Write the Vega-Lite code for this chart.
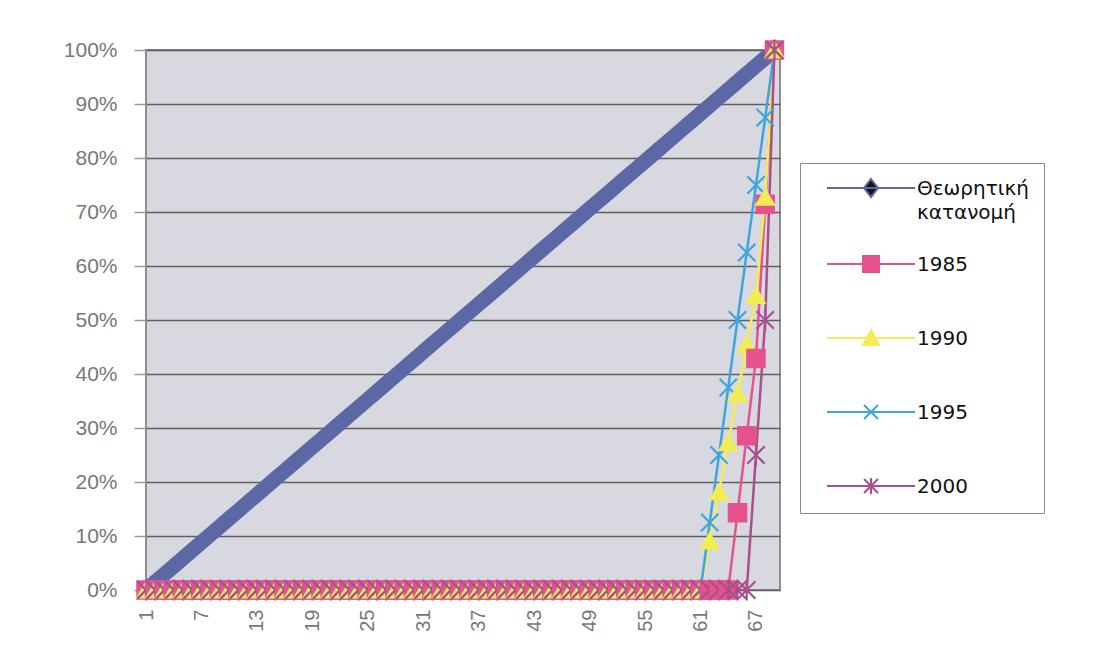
{
  "$schema": "https://vega.github.io/schema/vega-lite/v6.json",
  "width": 634,
  "height": 540,
  "autosize": {"type": "none"},
  "padding": {"left": 146, "top": 50, "right": 314, "bottom": 72},
  "background": "#ffffff",
  "config": {
    "font": "Liberation Sans",
    "view": {"fill": "#d8d8e1", "stroke": "#8e8e8e", "strokeWidth": 2}
  },
  "data": {
    "values": [
      {"i": 1, "Θεωρητική κατανομή": 0, "1985": 0, "1990": 0, "1995": 0, "2000": 0},
      {"i": 2, "Θεωρητική κατανομή": 0.0147, "1985": 0, "1990": 0, "1995": 0, "2000": 0},
      {"i": 3, "Θεωρητική κατανομή": 0.0294, "1985": 0, "1990": 0, "1995": 0, "2000": 0},
      {"i": 4, "Θεωρητική κατανομή": 0.0441, "1985": 0, "1990": 0, "1995": 0, "2000": 0},
      {"i": 5, "Θεωρητική κατανομή": 0.0588, "1985": 0, "1990": 0, "1995": 0, "2000": 0},
      {"i": 6, "Θεωρητική κατανομή": 0.0735, "1985": 0, "1990": 0, "1995": 0, "2000": 0},
      {"i": 7, "Θεωρητική κατανομή": 0.0882, "1985": 0, "1990": 0, "1995": 0, "2000": 0},
      {"i": 8, "Θεωρητική κατανομή": 0.1029, "1985": 0, "1990": 0, "1995": 0, "2000": 0},
      {"i": 9, "Θεωρητική κατανομή": 0.1176, "1985": 0, "1990": 0, "1995": 0, "2000": 0},
      {"i": 10, "Θεωρητική κατανομή": 0.1324, "1985": 0, "1990": 0, "1995": 0, "2000": 0},
      {"i": 11, "Θεωρητική κατανομή": 0.1471, "1985": 0, "1990": 0, "1995": 0, "2000": 0},
      {"i": 12, "Θεωρητική κατανομή": 0.1618, "1985": 0, "1990": 0, "1995": 0, "2000": 0},
      {"i": 13, "Θεωρητική κατανομή": 0.1765, "1985": 0, "1990": 0, "1995": 0, "2000": 0},
      {"i": 14, "Θεωρητική κατανομή": 0.1912, "1985": 0, "1990": 0, "1995": 0, "2000": 0},
      {"i": 15, "Θεωρητική κατανομή": 0.2059, "1985": 0, "1990": 0, "1995": 0, "2000": 0},
      {"i": 16, "Θεωρητική κατανομή": 0.2206, "1985": 0, "1990": 0, "1995": 0, "2000": 0},
      {"i": 17, "Θεωρητική κατανομή": 0.2353, "1985": 0, "1990": 0, "1995": 0, "2000": 0},
      {"i": 18, "Θεωρητική κατανομή": 0.25, "1985": 0, "1990": 0, "1995": 0, "2000": 0},
      {"i": 19, "Θεωρητική κατανομή": 0.2647, "1985": 0, "1990": 0, "1995": 0, "2000": 0},
      {"i": 20, "Θεωρητική κατανομή": 0.2794, "1985": 0, "1990": 0, "1995": 0, "2000": 0},
      {"i": 21, "Θεωρητική κατανομή": 0.2941, "1985": 0, "1990": 0, "1995": 0, "2000": 0},
      {"i": 22, "Θεωρητική κατανομή": 0.3088, "1985": 0, "1990": 0, "1995": 0, "2000": 0},
      {"i": 23, "Θεωρητική κατανομή": 0.3235, "1985": 0, "1990": 0, "1995": 0, "2000": 0},
      {"i": 24, "Θεωρητική κατανομή": 0.3382, "1985": 0, "1990": 0, "1995": 0, "2000": 0},
      {"i": 25, "Θεωρητική κατανομή": 0.3529, "1985": 0, "1990": 0, "1995": 0, "2000": 0},
      {"i": 26, "Θεωρητική κατανομή": 0.3676, "1985": 0, "1990": 0, "1995": 0, "2000": 0},
      {"i": 27, "Θεωρητική κατανομή": 0.3824, "1985": 0, "1990": 0, "1995": 0, "2000": 0},
      {"i": 28, "Θεωρητική κατανομή": 0.3971, "1985": 0, "1990": 0, "1995": 0, "2000": 0},
      {"i": 29, "Θεωρητική κατανομή": 0.4118, "1985": 0, "1990": 0, "1995": 0, "2000": 0},
      {"i": 30, "Θεωρητική κατανομή": 0.4265, "1985": 0, "1990": 0, "1995": 0, "2000": 0},
      {"i": 31, "Θεωρητική κατανομή": 0.4412, "1985": 0, "1990": 0, "1995": 0, "2000": 0},
      {"i": 32, "Θεωρητική κατανομή": 0.4559, "1985": 0, "1990": 0, "1995": 0, "2000": 0},
      {"i": 33, "Θεωρητική κατανομή": 0.4706, "1985": 0, "1990": 0, "1995": 0, "2000": 0},
      {"i": 34, "Θεωρητική κατανομή": 0.4853, "1985": 0, "1990": 0, "1995": 0, "2000": 0},
      {"i": 35, "Θεωρητική κατανομή": 0.5, "1985": 0, "1990": 0, "1995": 0, "2000": 0},
      {"i": 36, "Θεωρητική κατανομή": 0.5147, "1985": 0, "1990": 0, "1995": 0, "2000": 0},
      {"i": 37, "Θεωρητική κατανομή": 0.5294, "1985": 0, "1990": 0, "1995": 0, "2000": 0},
      {"i": 38, "Θεωρητική κατανομή": 0.5441, "1985": 0, "1990": 0, "1995": 0, "2000": 0},
      {"i": 39, "Θεωρητική κατανομή": 0.5588, "1985": 0, "1990": 0, "1995": 0, "2000": 0},
      {"i": 40, "Θεωρητική κατανομή": 0.5735, "1985": 0, "1990": 0, "1995": 0, "2000": 0},
      {"i": 41, "Θεωρητική κατανομή": 0.5882, "1985": 0, "1990": 0, "1995": 0, "2000": 0},
      {"i": 42, "Θεωρητική κατανομή": 0.6029, "1985": 0, "1990": 0, "1995": 0, "2000": 0},
      {"i": 43, "Θεωρητική κατανομή": 0.6176, "1985": 0, "1990": 0, "1995": 0, "2000": 0},
      {"i": 44, "Θεωρητική κατανομή": 0.6324, "1985": 0, "1990": 0, "1995": 0, "2000": 0},
      {"i": 45, "Θεωρητική κατανομή": 0.6471, "1985": 0, "1990": 0, "1995": 0, "2000": 0},
      {"i": 46, "Θεωρητική κατανομή": 0.6618, "1985": 0, "1990": 0, "1995": 0, "2000": 0},
      {"i": 47, "Θεωρητική κατανομή": 0.6765, "1985": 0, "1990": 0, "1995": 0, "2000": 0},
      {"i": 48, "Θεωρητική κατανομή": 0.6912, "1985": 0, "1990": 0, "1995": 0, "2000": 0},
      {"i": 49, "Θεωρητική κατανομή": 0.7059, "1985": 0, "1990": 0, "1995": 0, "2000": 0},
      {"i": 50, "Θεωρητική κατανομή": 0.7206, "1985": 0, "1990": 0, "1995": 0, "2000": 0},
      {"i": 51, "Θεωρητική κατανομή": 0.7353, "1985": 0, "1990": 0, "1995": 0, "2000": 0},
      {"i": 52, "Θεωρητική κατανομή": 0.75, "1985": 0, "1990": 0, "1995": 0, "2000": 0},
      {"i": 53, "Θεωρητική κατανομή": 0.7647, "1985": 0, "1990": 0, "1995": 0, "2000": 0},
      {"i": 54, "Θεωρητική κατανομή": 0.7794, "1985": 0, "1990": 0, "1995": 0, "2000": 0},
      {"i": 55, "Θεωρητική κατανομή": 0.7941, "1985": 0, "1990": 0, "1995": 0, "2000": 0},
      {"i": 56, "Θεωρητική κατανομή": 0.8088, "1985": 0, "1990": 0, "1995": 0, "2000": 0},
      {"i": 57, "Θεωρητική κατανομή": 0.8235, "1985": 0, "1990": 0, "1995": 0, "2000": 0},
      {"i": 58, "Θεωρητική κατανομή": 0.8382, "1985": 0, "1990": 0, "1995": 0, "2000": 0},
      {"i": 59, "Θεωρητική κατανομή": 0.8529, "1985": 0, "1990": 0, "1995": 0, "2000": 0},
      {"i": 60, "Θεωρητική κατανομή": 0.8676, "1985": 0, "1990": 0, "1995": 0, "2000": 0},
      {"i": 61, "Θεωρητική κατανομή": 0.8824, "1985": 0, "1990": 0, "1995": 0, "2000": 0},
      {"i": 62, "Θεωρητική κατανομή": 0.8971, "1985": 0, "1990": 0.0909, "1995": 0.125, "2000": 0},
      {"i": 63, "Θεωρητική κατανομή": 0.9118, "1985": 0, "1990": 0.1818, "1995": 0.25, "2000": 0},
      {"i": 64, "Θεωρητική κατανομή": 0.9265, "1985": 0, "1990": 0.2727, "1995": 0.375, "2000": 0},
      {"i": 65, "Θεωρητική κατανομή": 0.9412, "1985": 0.1429, "1990": 0.3636, "1995": 0.5, "2000": 0},
      {"i": 66, "Θεωρητική κατανομή": 0.9559, "1985": 0.2857, "1990": 0.4545, "1995": 0.625, "2000": 0},
      {"i": 67, "Θεωρητική κατανομή": 0.9706, "1985": 0.4286, "1990": 0.5455, "1995": 0.75, "2000": 0.25},
      {"i": 68, "Θεωρητική κατανομή": 0.9853, "1985": 0.7143, "1990": 0.7273, "1995": 0.875, "2000": 0.5},
      {"i": 69, "Θεωρητική κατανομή": 1, "1985": 1, "1990": 1, "1995": 1, "2000": 1}
    ]
  },
  "transform": [
    {"fold": ["Θεωρητική κατανομή", "1985", "1990", "1995", "2000"], "as": ["series", "v"]}
  ],
  "encoding": {
    "x": {
      "field": "i", "type": "quantitative",
      "scale": {"domain": [1, 69.6], "nice": false, "zero": false},
      "axis": {
        "values": [1, 7, 13, 19, 25, 31, 37, 43, 49, 55, 61, 67],
        "labelAngle": -90, "title": null, "grid": false, "domain": false, "ticks": false,
        "labelPadding": 19, "labelFontSize": 20, "labelColor": "#777777", "labelFont": "Liberation Sans"
      }
    },
    "y": {
      "field": "v", "type": "quantitative",
      "scale": {"domain": [0, 1], "nice": false},
      "axis": {
        "values": [0, 0.1, 0.2, 0.3, 0.4, 0.5, 0.6, 0.7, 0.8, 0.9, 1],
        "format": ".0%", "title": null, "grid": true, "gridColor": "#5e5e5e", "gridWidth": 1.3, "gridOpacity": 1,
        "domain": false, "tickSize": 12, "tickColor": "#9a9a9a", "tickWidth": 1.5,
        "labelPadding": 17, "labelFontSize": 21, "labelColor": "#777777", "labelFont": "Liberation Sans"
      }
    }
  },
  "layer": [
    {
      "transform": [{"filter": "datum.series == 'Θεωρητική κατανομή'"}],
      "mark": {"type": "line", "strokeWidth": 15, "strokeCap": "butt", "clip": true},
      "encoding": {
        "color": {
          "field": "series", "type": "nominal",
          "scale": {
            "domain": ["Θεωρητική κατανομή", "1985", "1990", "1995", "2000"],
            "range": ["#5b68a5", "#e6528c", "#f4ec55", "#3ea6de", "#a8508c"]
          },
          "legend": {
            "orient": "none", "legendX": 654, "legendY": 113, "title": null, "padding": 15,
            "fillColor": "#ffffff", "strokeColor": "#8a8a8a",
            "rowPadding": 12, "labelOffset": 36, "symbolOffset": 46, "symbolSize": 4,
            "labelFontSize": 20, "labelColor": "#111111", "labelFont": "DejaVu Sans", "labelLimit": 300,
            "labelBaseline": "alphabetic",
            "labelExpr": "split(datum.label, ' ')",
            "encode": {
              "symbols": {
                "update": {
                  "shape": {"signal": "datum.value == '1985' ? 'M0,-25M140,29M-44,0H44M-8,-8H8V8H-8Z' : datum.value == '1990' ? 'M0,-25M140,29M-44,0H44M0,-8L8,7H-8Z' : datum.value == '1995' ? 'M0,-25M140,29M-44,0H44M-7,-7L7,7M-7,7L7,-7' : datum.value == '2000' ? 'M0,-25M140,0M-44,0H44M-7,-7L7,7M-7,7L7,-7M0,-8V8' : 'M0,-25M140,29M-44,0H44M0,-9L7,0L0,9L-7,0Z'"},
                  "fill": {"signal": "datum.value == 'Θεωρητική κατανομή' ? '#151515' : scale('color', datum.value)"},
                  "stroke": {"signal": "scale('color', datum.value)"},
                  "strokeWidth": {"value": 2},
                  "size": {"value": 4},
                  "opacity": {"value": 1}
                }
              },
              "labels": {"update": {"dy": {"value": 7}, "lineHeight": {"value": 24}}}
            }
          }
        }
      }
    },
    {
      "transform": [{"filter": "datum.series != 'Θεωρητική κατανομή'"}],
      "mark": {"type": "line", "strokeWidth": 2.5},
      "encoding": {"color": {"field": "series", "type": "nominal"}}
    },
    {
      "transform": [{"filter": "datum.series != 'Θεωρητική κατανομή'"}],
      "mark": {"type": "point", "filled": true, "size": 300, "strokeWidth": 2.2, "opacity": 1},
      "encoding": {
        "shape": {
          "field": "series", "type": "nominal",
          "scale": {
            "domain": ["1985", "1990", "1995", "2000"],
            "range": ["square", "triangle-up", "M-1,-1L1,1M-1,1L1,-1", "M-1,-1L1,1M-1,1L1,-1M0,-1.2V1.2"]
          },
          "legend": null
        },
        "fill": {
          "field": "series", "type": "nominal",
          "scale": {"domain": ["1985", "1990", "1995", "2000"], "range": ["#e6528c", "#f4ec55", "#3ea6de", "#a8508c"]},
          "legend": null
        },
        "stroke": {
          "field": "series", "type": "nominal",
          "scale": {"domain": ["1985", "1990", "1995", "2000"], "range": ["#e6528c", "#f4ec55", "#3ea6de", "#a8508c"]},
          "legend": null
        }
      }
    }
  ]
}
